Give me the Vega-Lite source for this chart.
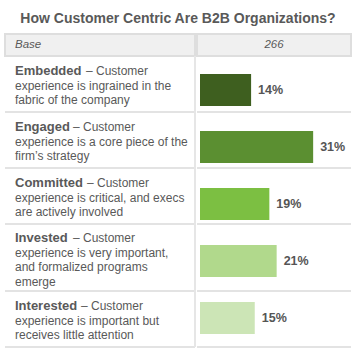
{
  "$schema": "https://vega.github.io/schema/vega-lite/v6.json",
  "padding": {"left": 4, "top": 12, "right": 7, "bottom": 0},
  "background": "white",
  "title": {"text": "How Customer Centric Are B2B Organizations?", "fontSize": 14, "fontWeight": "bold", "color": "#595959", "anchor": "middle", "offset": 7, "font": "Liberation Sans"},
  "datasets": {
    "header": [{"label": "Base", "base": "266"}],
    "rows": [
      {"term": "Embedded", "lead": "– Customer", "desc": "experience is ingrained in the\nfabric of the company", "share": 0.14},
      {"term": "Engaged", "lead": "– Customer", "desc": "experience is a core piece of the\nfirm’s strategy", "share": 0.31},
      {"term": "Committed", "lead": "– Customer", "desc": "experience is critical, and execs\nare actively involved", "share": 0.19},
      {"term": "Invested", "lead": "– Customer", "desc": "experience is very important,\nand formalized programs\nemerge", "share": 0.21},
      {"term": "Interested", "lead": "– Customer", "desc": "experience is important but\nreceives little attention", "share": 0.15}
    ]
  },
  "spacing": 0,
  "hconcat": [
    {
      "spacing": 0,
      "bounds": "flush",
      "vconcat": [
        {
          "width": 190, "height": 22,
          "data": {"name": "header"},
          "view": {"fill": "#f0f0f0", "stroke": "#dedede", "strokeWidth": 2},
          "mark": {"type": "text", "align": "left", "baseline": "middle", "dx": 10, "fontStyle": "italic", "fontSize": 11.5, "color": "#595959"},
          "encoding": {
            "x": {"field": "label", "type": "nominal", "bandPosition": 0, "scale": {"type": "band", "paddingInner": 0, "paddingOuter": 0}, "axis": null},
            "text": {"field": "label"}
          }
        },
        {
          "width": 190, "height": 56, "data": {"name": "rows"},
          "transform": [{"filter": {"field": "term", "equal": "Embedded"}}],
          "encoding": {
            "x": {"datum": "Description", "type": "nominal", "bandPosition": 0, "scale": {"type": "band", "paddingInner": 0, "paddingOuter": 0}, "axis": null},
            "y": {"field": "term", "type": "nominal", "bandPosition": 0, "scale": {"type": "band", "paddingInner": 0, "paddingOuter": 0}, "axis": null}
          },
          "layer": [
            {"mark": {"type": "rule", "color": "#e3e3e3", "strokeWidth": 2}, "encoding": {"x": null, "y": {"field": "term", "type": "nominal", "bandPosition": 1}}},
            {"mark": {"type": "rule", "color": "#e6e6e6", "strokeWidth": 2}, "encoding": {"y": null, "x": {"datum": "Description", "type": "nominal", "bandPosition": 1}}},
            {"mark": {"type": "text", "align": "left", "baseline": "top", "dx": 10, "dy": 9, "fontSize": 13, "fontWeight": "bold", "color": "#595959"}, "encoding": {"text": {"field": "term"}}},
            {"mark": {"type": "text", "align": "left", "baseline": "top", "dx": 81, "dy": 10, "fontSize": 12, "color": "#595959"}, "encoding": {"text": {"field": "lead"}}},
            {"mark": {"type": "text", "align": "left", "baseline": "top", "dx": 10, "dy": 24.7, "fontSize": 12, "lineHeight": 14.7, "lineBreak": "\n", "color": "#595959"}, "encoding": {"text": {"field": "desc"}}}
          ]
        },
        {
          "width": 190, "height": 56, "data": {"name": "rows"},
          "transform": [{"filter": {"field": "term", "equal": "Engaged"}}],
          "encoding": {
            "x": {"datum": "Description", "type": "nominal", "bandPosition": 0, "scale": {"type": "band", "paddingInner": 0, "paddingOuter": 0}, "axis": null},
            "y": {"field": "term", "type": "nominal", "bandPosition": 0, "scale": {"type": "band", "paddingInner": 0, "paddingOuter": 0}, "axis": null}
          },
          "layer": [
            {"mark": {"type": "rule", "color": "#e3e3e3", "strokeWidth": 2}, "encoding": {"x": null, "y": {"field": "term", "type": "nominal", "bandPosition": 1}}},
            {"mark": {"type": "rule", "color": "#e6e6e6", "strokeWidth": 2}, "encoding": {"y": null, "x": {"datum": "Description", "type": "nominal", "bandPosition": 1}}},
            {"mark": {"type": "text", "align": "left", "baseline": "top", "dx": 10, "dy": 9, "fontSize": 13, "fontWeight": "bold", "color": "#595959"}, "encoding": {"text": {"field": "term"}}},
            {"mark": {"type": "text", "align": "left", "baseline": "top", "dx": 68, "dy": 10, "fontSize": 12, "color": "#595959"}, "encoding": {"text": {"field": "lead"}}},
            {"mark": {"type": "text", "align": "left", "baseline": "top", "dx": 10, "dy": 24.7, "fontSize": 12, "lineHeight": 14.7, "lineBreak": "\n", "color": "#595959"}, "encoding": {"text": {"field": "desc"}}}
          ]
        },
        {
          "width": 190, "height": 56, "data": {"name": "rows"},
          "transform": [{"filter": {"field": "term", "equal": "Committed"}}],
          "encoding": {
            "x": {"datum": "Description", "type": "nominal", "bandPosition": 0, "scale": {"type": "band", "paddingInner": 0, "paddingOuter": 0}, "axis": null},
            "y": {"field": "term", "type": "nominal", "bandPosition": 0, "scale": {"type": "band", "paddingInner": 0, "paddingOuter": 0}, "axis": null}
          },
          "layer": [
            {"mark": {"type": "rule", "color": "#e3e3e3", "strokeWidth": 2}, "encoding": {"x": null, "y": {"field": "term", "type": "nominal", "bandPosition": 1}}},
            {"mark": {"type": "rule", "color": "#e6e6e6", "strokeWidth": 2}, "encoding": {"y": null, "x": {"datum": "Description", "type": "nominal", "bandPosition": 1}}},
            {"mark": {"type": "text", "align": "left", "baseline": "top", "dx": 10, "dy": 9, "fontSize": 13, "fontWeight": "bold", "color": "#595959"}, "encoding": {"text": {"field": "term"}}},
            {"mark": {"type": "text", "align": "left", "baseline": "top", "dx": 82, "dy": 10, "fontSize": 12, "color": "#595959"}, "encoding": {"text": {"field": "lead"}}},
            {"mark": {"type": "text", "align": "left", "baseline": "top", "dx": 10, "dy": 24.7, "fontSize": 12, "lineHeight": 14.7, "lineBreak": "\n", "color": "#595959"}, "encoding": {"text": {"field": "desc"}}}
          ]
        },
        {
          "width": 190, "height": 67, "data": {"name": "rows"},
          "transform": [{"filter": {"field": "term", "equal": "Invested"}}],
          "encoding": {
            "x": {"datum": "Description", "type": "nominal", "bandPosition": 0, "scale": {"type": "band", "paddingInner": 0, "paddingOuter": 0}, "axis": null},
            "y": {"field": "term", "type": "nominal", "bandPosition": 0, "scale": {"type": "band", "paddingInner": 0, "paddingOuter": 0}, "axis": null}
          },
          "layer": [
            {"mark": {"type": "rule", "color": "#e3e3e3", "strokeWidth": 2}, "encoding": {"x": null, "y": {"field": "term", "type": "nominal", "bandPosition": 1}}},
            {"mark": {"type": "rule", "color": "#e6e6e6", "strokeWidth": 2}, "encoding": {"y": null, "x": {"datum": "Description", "type": "nominal", "bandPosition": 1}}},
            {"mark": {"type": "text", "align": "left", "baseline": "top", "dx": 10, "dy": 8, "fontSize": 13, "fontWeight": "bold", "color": "#595959"}, "encoding": {"text": {"field": "term"}}},
            {"mark": {"type": "text", "align": "left", "baseline": "top", "dx": 68, "dy": 9, "fontSize": 12, "color": "#595959"}, "encoding": {"text": {"field": "lead"}}},
            {"mark": {"type": "text", "align": "left", "baseline": "top", "dx": 10, "dy": 23.7, "fontSize": 12, "lineHeight": 14.7, "lineBreak": "\n", "color": "#595959"}, "encoding": {"text": {"field": "desc"}}}
          ]
        },
        {
          "width": 190, "height": 56, "data": {"name": "rows"},
          "transform": [{"filter": {"field": "term", "equal": "Interested"}}],
          "encoding": {
            "x": {"datum": "Description", "type": "nominal", "bandPosition": 0, "scale": {"type": "band", "paddingInner": 0, "paddingOuter": 0}, "axis": null},
            "y": {"field": "term", "type": "nominal", "bandPosition": 0, "scale": {"type": "band", "paddingInner": 0, "paddingOuter": 0}, "axis": null}
          },
          "layer": [
            {"mark": {"type": "rule", "color": "#e3e3e3", "strokeWidth": 2}, "encoding": {"x": null, "y": {"field": "term", "type": "nominal", "bandPosition": 1}}},
            {"mark": {"type": "rule", "color": "#e6e6e6", "strokeWidth": 2}, "encoding": {"y": null, "x": {"datum": "Description", "type": "nominal", "bandPosition": 1}}},
            {"mark": {"type": "text", "align": "left", "baseline": "top", "dx": 10, "dy": 9, "fontSize": 13, "fontWeight": "bold", "color": "#595959"}, "encoding": {"text": {"field": "term"}}},
            {"mark": {"type": "text", "align": "left", "baseline": "top", "dx": 76, "dy": 10, "fontSize": 12, "color": "#595959"}, "encoding": {"text": {"field": "lead"}}},
            {"mark": {"type": "text", "align": "left", "baseline": "top", "dx": 10, "dy": 24.7, "fontSize": 12, "lineHeight": 14.7, "lineBreak": "\n", "color": "#595959"}, "encoding": {"text": {"field": "desc"}}}
          ]
        }
      ]
    },
    {
      "spacing": 0,
      "bounds": "flush",
      "vconcat": [
        {
          "width": 154, "height": 22,
          "data": {"name": "header"},
          "view": {"fill": "#f0f0f0", "stroke": "#dedede", "strokeWidth": 2},
          "mark": {"type": "text", "align": "center", "baseline": "middle", "fontStyle": "italic", "fontSize": 11.5, "color": "#595959"},
          "encoding": {"text": {"field": "base"}}
        },
        {
          "width": 154, "height": 56, "data": {"name": "rows"},
          "transform": [{"filter": {"field": "term", "equal": "Embedded"}}],
          "resolve": {"scale": {"y": "independent"}},
          "layer": [
            {"mark": {"type": "rule", "color": "#e3e3e3", "strokeWidth": 2}, "encoding": {"y": {"field": "term", "type": "nominal", "bandPosition": 1, "scale": {"type": "band", "paddingInner": 0, "paddingOuter": 0}, "axis": null}}},
            {
              "encoding": {
                "y": {"field": "term", "type": "nominal", "scale": {"type": "band", "paddingInner": 0, "paddingOuter": 0.375, "align": 0.75}, "axis": null},
                "x": {"field": "share", "type": "quantitative", "scale": {"domain": [0, 0.4137], "range": [3, 154], "nice": false}, "axis": null}
              },
              "layer": [
                {"mark": {"type": "bar", "color": "#3e5f1f"}},
                {"mark": {"type": "text", "align": "left", "baseline": "middle", "dx": 7, "fontSize": 12.5, "fontWeight": "bold", "color": "#555555"}, "encoding": {"text": {"field": "share", "type": "quantitative", "format": ".0%"}}}
              ]
            }
          ]
        },
        {
          "width": 154, "height": 56, "data": {"name": "rows"},
          "transform": [{"filter": {"field": "term", "equal": "Engaged"}}],
          "resolve": {"scale": {"y": "independent"}},
          "layer": [
            {"mark": {"type": "rule", "color": "#e3e3e3", "strokeWidth": 2}, "encoding": {"y": {"field": "term", "type": "nominal", "bandPosition": 1, "scale": {"type": "band", "paddingInner": 0, "paddingOuter": 0}, "axis": null}}},
            {
              "encoding": {
                "y": {"field": "term", "type": "nominal", "scale": {"type": "band", "paddingInner": 0, "paddingOuter": 0.375, "align": 0.79}, "axis": null},
                "x": {"field": "share", "type": "quantitative", "scale": {"domain": [0, 0.4137], "range": [3, 154], "nice": false}, "axis": null}
              },
              "layer": [
                {"mark": {"type": "bar", "color": "#5b8f31"}},
                {"mark": {"type": "text", "align": "left", "baseline": "middle", "dx": 7, "fontSize": 12.5, "fontWeight": "bold", "color": "#555555"}, "encoding": {"text": {"field": "share", "type": "quantitative", "format": ".0%"}}}
              ]
            }
          ]
        },
        {
          "width": 154, "height": 56, "data": {"name": "rows"},
          "transform": [{"filter": {"field": "term", "equal": "Committed"}}],
          "resolve": {"scale": {"y": "independent"}},
          "layer": [
            {"mark": {"type": "rule", "color": "#e3e3e3", "strokeWidth": 2}, "encoding": {"y": {"field": "term", "type": "nominal", "bandPosition": 1, "scale": {"type": "band", "paddingInner": 0, "paddingOuter": 0}, "axis": null}}},
            {
              "encoding": {
                "y": {"field": "term", "type": "nominal", "scale": {"type": "band", "paddingInner": 0, "paddingOuter": 0.375, "align": 0.833}, "axis": null},
                "x": {"field": "share", "type": "quantitative", "scale": {"domain": [0, 0.4137], "range": [3, 154], "nice": false}, "axis": null}
              },
              "layer": [
                {"mark": {"type": "bar", "color": "#7cbf42"}},
                {"mark": {"type": "text", "align": "left", "baseline": "middle", "dx": 7, "fontSize": 12.5, "fontWeight": "bold", "color": "#555555"}, "encoding": {"text": {"field": "share", "type": "quantitative", "format": ".0%"}}}
              ]
            }
          ]
        },
        {
          "width": 154, "height": 67, "data": {"name": "rows"},
          "transform": [{"filter": {"field": "term", "equal": "Invested"}}],
          "resolve": {"scale": {"y": "independent"}},
          "layer": [
            {"mark": {"type": "rule", "color": "#e3e3e3", "strokeWidth": 2}, "encoding": {"y": {"field": "term", "type": "nominal", "bandPosition": 1, "scale": {"type": "band", "paddingInner": 0, "paddingOuter": 0}, "axis": null}}},
            {
              "encoding": {
                "y": {"field": "term", "type": "nominal", "scale": {"type": "band", "paddingInner": 0, "paddingOuter": 0.547, "align": 0.6}, "axis": null},
                "x": {"field": "share", "type": "quantitative", "scale": {"domain": [0, 0.4137], "range": [3, 154], "nice": false}, "axis": null}
              },
              "layer": [
                {"mark": {"type": "bar", "color": "#b1d98c"}},
                {"mark": {"type": "text", "align": "left", "baseline": "middle", "dx": 7, "fontSize": 12.5, "fontWeight": "bold", "color": "#555555"}, "encoding": {"text": {"field": "share", "type": "quantitative", "format": ".0%"}}}
              ]
            }
          ]
        },
        {
          "width": 154, "height": 56, "data": {"name": "rows"},
          "transform": [{"filter": {"field": "term", "equal": "Interested"}}],
          "resolve": {"scale": {"y": "independent"}},
          "layer": [
            {"mark": {"type": "rule", "color": "#e3e3e3", "strokeWidth": 2}, "encoding": {"y": {"field": "term", "type": "nominal", "bandPosition": 1, "scale": {"type": "band", "paddingInner": 0, "paddingOuter": 0}, "axis": null}}},
            {
              "encoding": {
                "y": {"field": "term", "type": "nominal", "scale": {"type": "band", "paddingInner": 0, "paddingOuter": 0.375, "align": 0.458}, "axis": null},
                "x": {"field": "share", "type": "quantitative", "scale": {"domain": [0, 0.4137], "range": [3, 154], "nice": false}, "axis": null}
              },
              "layer": [
                {"mark": {"type": "bar", "color": "#cce5b6"}},
                {"mark": {"type": "text", "align": "left", "baseline": "middle", "dx": 7, "fontSize": 12.5, "fontWeight": "bold", "color": "#555555"}, "encoding": {"text": {"field": "share", "type": "quantitative", "format": ".0%"}}}
              ]
            }
          ]
        }
      ]
    }
  ],
  "config": {
    "font": "Liberation Sans",
    "view": {"stroke": null}
  }
}
